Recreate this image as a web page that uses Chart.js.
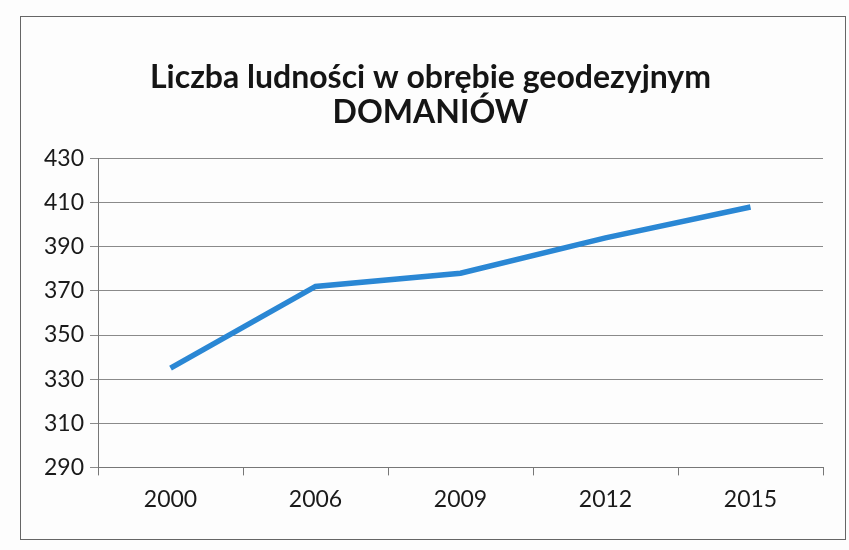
<!DOCTYPE html>
<html>
<head>
<meta charset="utf-8">
<script src="https://cdn.jsdelivr.net/npm/chart.js@4.4.1/dist/chart.umd.min.js"></script>
<style>
  html, body { margin:0; padding:0; background:#fdfdfd; }
  #wrap { position:relative; width:849px; height:550px; }
  #frame { position:absolute; left:20px; top:16px; width:824px; height:522px; border:1px solid #666; pointer-events:none; }
  canvas { position:absolute; left:0; top:0; }
</style>
</head>
<body>
<div id="wrap">
  <canvas id="chart" width="849" height="550"></canvas>
  <div id="frame"></div>
</div>
<script>
// ================= DATA =================
const years = ["2000", "2006", "2009", "2012", "2015"];
const population = [335, 372, 378, 394, 408];
const titleLines = ["Liczba ludności w obrębie geodezyjnym", "DOMANIÓW"];
const yMin = 290, yMax = 430, yStep = 20;

// ================= CHART =================
const ctx = document.getElementById("chart").getContext("2d");
new Chart(ctx, {
    type: "line",
    data: {
        labels: years,
        datasets: [{
            data: population,
            borderColor: "#2a87d4",
            borderWidth: 5.5,
            pointRadius: 0,
            tension: 0,
            fill: false
        }]
    },
    options: {
        responsive: false,
        animation: false,
        layout: { padding: { left: 38, right: 26, top: 61, bottom: 27 } },
        plugins: {
            legend: { display: false },
            tooltip: { enabled: false },
            title: {
                display: true,
                text: titleLines,
                color: "#151515",
                font: { family: "Lato", size: 32, weight: "bold", lineHeight: 1.07 },
                padding: { top: 0, bottom: 29 }
            }
        },
        scales: {
            x: {
                offset: true,
                grid: { display: true, offset: true, drawOnChartArea: false, drawTicks: true, tickLength: 8, color: "#777" },
                border: { display: true, color: "#777", width: 1 },
                ticks: { color: "#1a1a1a", font: { family: "Lato", size: 23 }, padding: 10 }
            },
            y: {
                min: yMin, max: yMax,
                grid: { color: "#8a8a8a", tickLength: 8, lineWidth: 1 },
                border: { display: true, color: "#777", width: 1 },
                ticks: { stepSize: yStep, color: "#1a1a1a", font: { family: "Lato", size: 23 }, padding: 6 }
            }
        }
    }
});
</script>
</body>
</html>
